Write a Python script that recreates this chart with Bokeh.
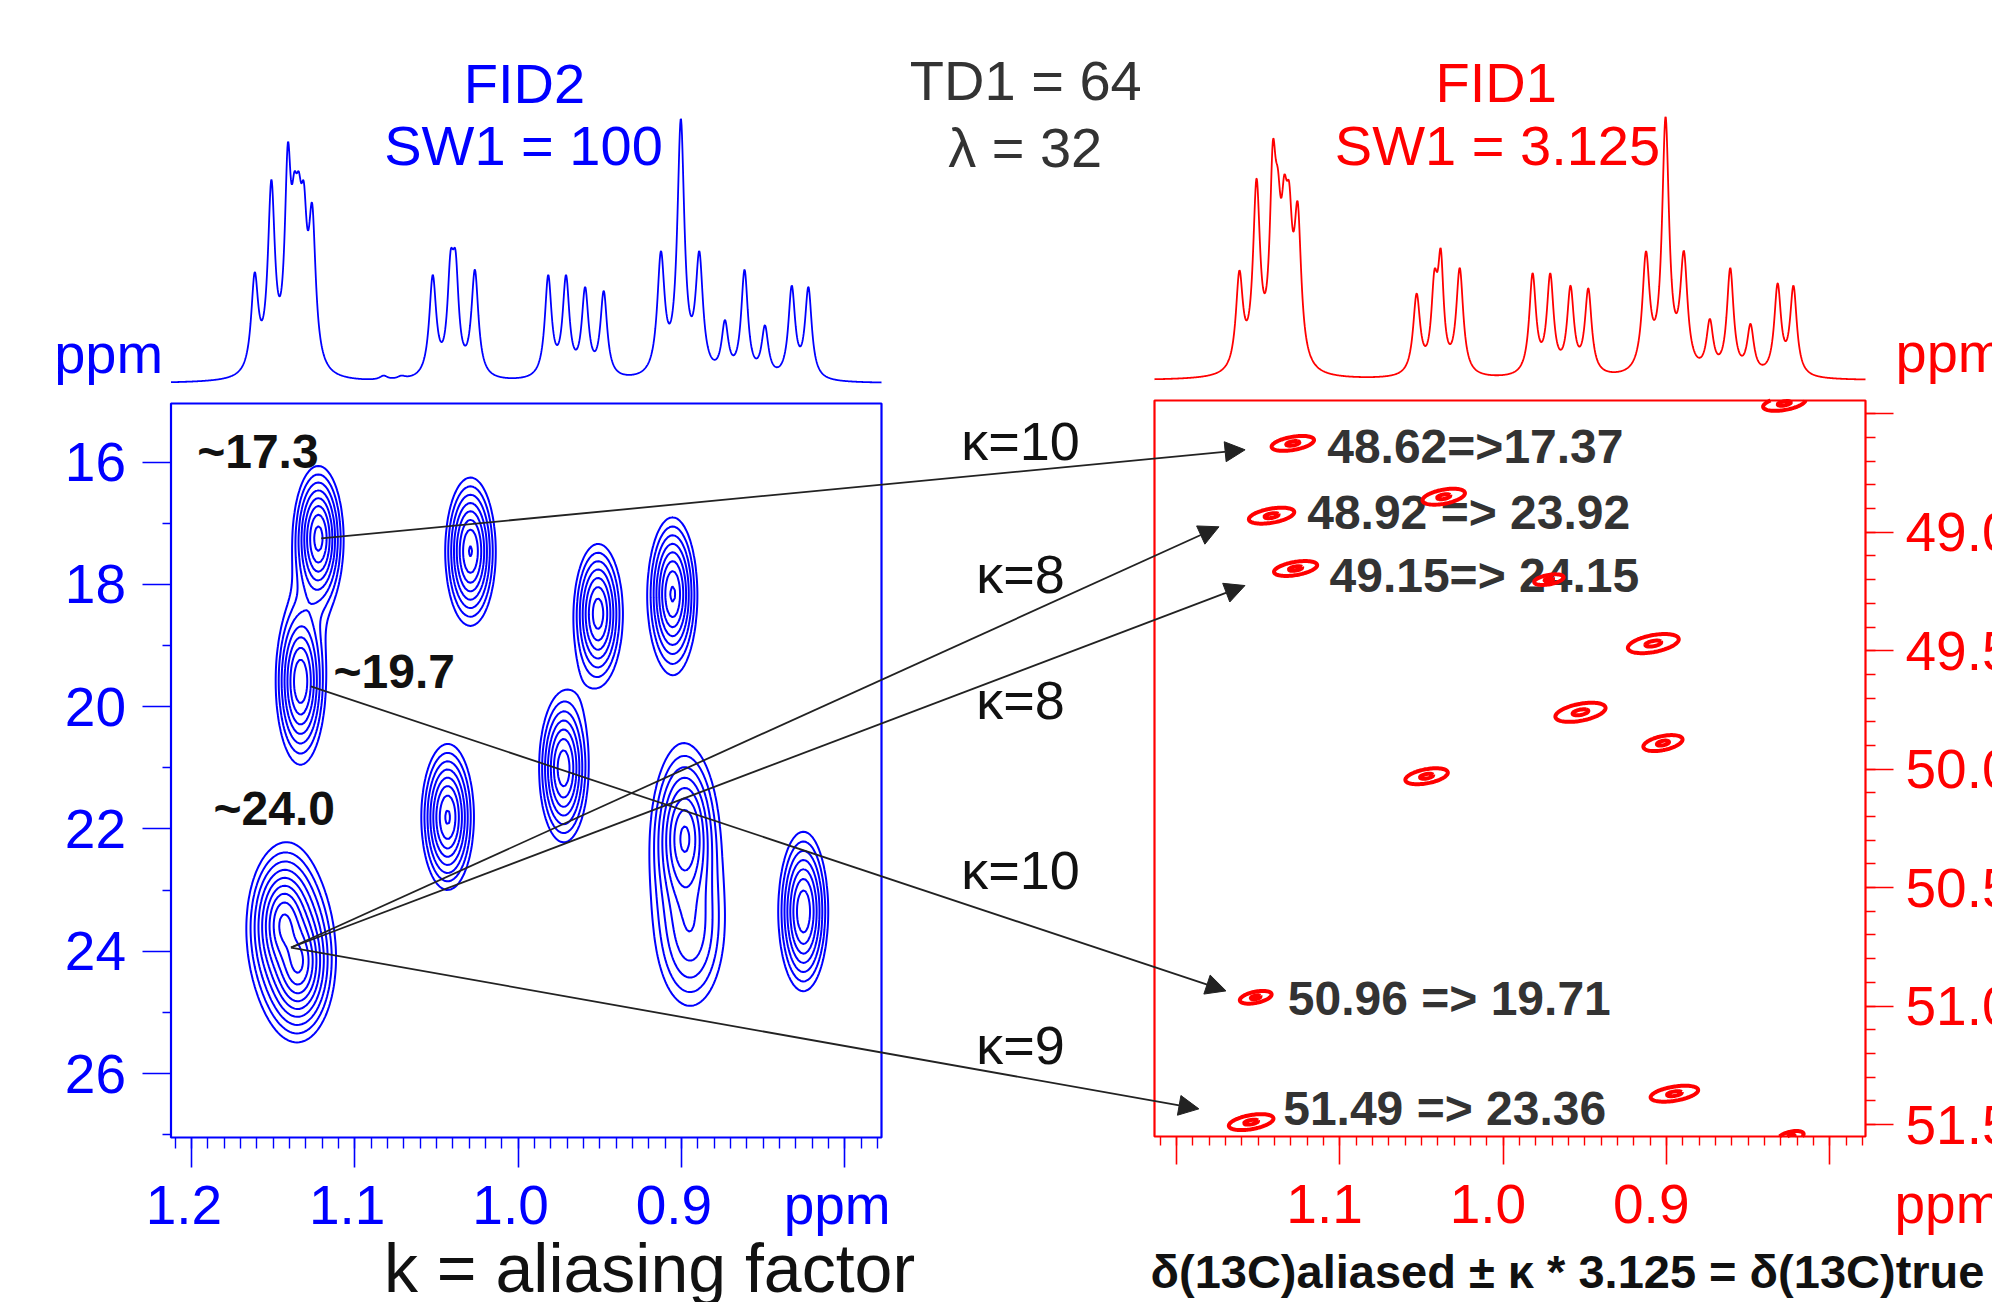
import numpy as np
import contourpy
from bokeh.plotting import figure
from bokeh.models import Range1d, LinearAxis, FixedTicker, Arrow, NormalHead, PrintfTickFormatter
from bokeh.core.properties import value
from bokeh.embed import file_html
from bokeh.resources import INLINE

BLUE = "#0000ff"
RED = "#ff0000"
DARK = "#333333"
BLACK = "#111111"
FONT = "Liberation Sans"
NBSP = "\u00a0"

# ------------------------------------------------------------------ data
# 1H projection above FID2 (blue): peak position (ppm), apparent height, half width
blue_ppm = [1.1720, 1.1613, 1.1511, 1.1410, 1.1370, 1.1343, 1.1312, 1.1261, 1.0824, 1.0715,
            1.0523, 1.0414, 1.0383, 1.0265, 0.9816, 0.9707, 0.9590, 0.9476,
            0.9126, 0.9004, 0.8891, 0.8734, 0.8614, 0.8489, 0.8325, 0.8223]
blue_hgt = [4, 42, 77, 91, 80, 80, 76, 68, 3, 3,
            41, 50, 50, 43, 41, 41, 36.5, 35,
            50, 100, 50, 24, 43, 22, 37, 36.5]
blue_hw = [0.006, 0.0026, 0.0026, 0.0023, 0.0023, 0.0023, 0.0023, 0.0026, 0.003, 0.003,
           0.0026, 0.0023, 0.0023, 0.0026, 0.0025, 0.0025, 0.0025, 0.0025,
           0.0027, 0.0026, 0.0027, 0.0025, 0.0025, 0.0025, 0.0025, 0.0025]

# 1H projection above FID1 (red)
red_ppm = [1.1720, 1.1615, 1.1510, 1.1410, 1.1379, 1.1340, 1.1310, 1.1258,
           1.0530, 1.0421, 1.0382, 1.0266, 0.9820, 0.9712, 0.9588, 0.9479,
           0.9126, 0.9006, 0.8894, 0.8735, 0.8610, 0.8486, 0.8320, 0.8223]
red_hgt = [4, 41.7, 76.6, 90.9, 80, 78, 75, 67.8,
           33, 42, 50, 42.7, 40.7, 40.7, 36, 35,
           49, 100, 49.2, 23.4, 42.7, 21.5, 36.9, 36]
red_hw = [0.006, 0.0026, 0.0026, 0.0023, 0.0023, 0.0023, 0.0023, 0.0026,
          0.0026, 0.0023, 0.0021, 0.0026, 0.0025, 0.0025, 0.0025, 0.0025,
          0.0027, 0.0026, 0.0027, 0.0025, 0.0025, 0.0025, 0.0025, 0.0025]

# FID2 2D cross peaks (blue): 1H, 13C, outer-contour half widths, amplitude
b2_h = [1.1223, 1.1332, 1.0292, 0.9511, 0.9054, 0.9722, 1.0432, 1.1435, 1.1345, 0.8980, 0.8945, 0.8253]
b2_c = [17.25, 19.59, 17.46, 18.48, 18.16, 21.01, 21.81, 23.55, 24.20, 22.15, 23.70, 23.35]
b2_wh = [0.0151, 0.0149, 0.0153, 0.0144, 0.0148, 0.0147, 0.0159, 0.0210, 0.0210, 0.0195, 0.0180, 0.0150]
b2_wc = [1.17, 1.30, 1.20, 1.12, 1.24, 1.19, 1.18, 1.20, 1.20, 1.45, 1.10, 1.29]
b2_amp = [12, 10, 10.8, 9, 11, 9.5, 11, 14, 14, 11, 3, 10]
blue_levels = [1.4 ** k for k in range(10)]

# FID1 2D cross peaks (red, aliased 13C)
r2_h = [1.1288, 1.0364, 1.1418, 1.1271, 0.9720, 0.9081, 0.9527, 0.9022, 1.0469, 1.1515, 0.8952, 1.1543, 0.8279, 0.8238]
r2_c = [48.625, 48.850, 48.930, 49.153, 49.200, 49.470, 49.760, 49.890, 50.030, 50.963, 51.370, 51.490, 48.456, 51.550]
r2_wh = [0.0116, 0.0116, 0.0124, 0.0118, 0.0081, 0.0139, 0.0137, 0.0107, 0.0116, 0.0087, 0.0130, 0.0122, 0.0116, 0.0069]
r2_wc = [0.028, 0.030, 0.030, 0.028, 0.020, 0.036, 0.036, 0.030, 0.030, 0.024, 0.030, 0.030, 0.028, 0.020]
red_levels = [1.0, 3.3]

# aliasing arrows: start in FID2 (1H, 13C), end in FID1 (1H, 13C aliased), factor
arr_h0 = [1.1206, 1.1391, 1.1391, 1.1269, 1.1391]
arr_c0 = [17.25, 23.94, 23.94, 19.67, 23.94]
arr_h1 = [1.1580, 1.1740, 1.1581, 1.1697, 1.1863]
arr_c1 = [48.652, 48.977, 49.225, 50.936, 51.434]
kappa = ["κ=10", "κ=8", "κ=8", "κ=10", "κ=9"]

peak_labels = ["~17.3", "~19.7", "~24.0"]
alias_labels = ["48.62=>17.37", "48.92 => 23.92", "49.15=> 24.15", "50.96 => 19.71", "51.49 => 23.36"]

blue_xticks = [1.2, 1.1, 1.0, 0.9, 0.8]
blue_yticks = [16, 18, 20, 22, 24, 26]
red_xticks = [1.2, 1.1, 1.0, 0.9, 0.8]
red_yticks = [48.5, 49.0, 49.5, 50.0, 50.5, 51.0, 51.5]

# ------------------------------------------------------------------ layout helpers
W, H = 1992, 1302
PX0, PX1, PY0, PY1 = 0, W, 0, H   # page pixels covered by the canvas


def lin(p0, v0, p1, v1):
    k = (v1 - v0) / (p1 - p0)
    return (lambda p: v0 + (p - p0) * k), (lambda v: p0 + (v - v0) / k)


LX, LXp = lin(191, 1.2, 681, 0.9)          # FID2 1H
LY, LYp = lin(461.5, 16.0, 1073, 26.0)      # FID2 13C
RX, RXp = lin(1176, 1.2, 1502.7, 1.0)       # FID1 1H
RY, RYp = lin(413.3, 48.5, 1124, 51.5)      # FID1 13C
SB, _ = lin(383, 0.0, 118, 100.0)           # blue projection intensity
SR, _ = lin(380, 0.0, 116, 100.0)           # red projection intensity

BL, BR, BT, BB = 170.5, 881, 403, 1137      # blue panel box (page px)
RL, RR, RT, RB = 1154, 1865, 400, 1136      # red panel box

p = figure(width=W, height=H,
           x_range=Range1d(LX(PX0), LX(PX1)), y_range=Range1d(LY(PY1), LY(PY0)),
           x_axis_type=None, y_axis_type=None, toolbar_location=None,
           output_backend="svg", min_border=0, title=None, outline_line_color=None)
p.background_fill_color = "white"
p.border_fill_color = "white"
p.extra_x_ranges = {"rx": Range1d(RX(PX0), RX(PX1)), "px": Range1d(PX0, PX1)}
p.extra_y_ranges = {"ry": Range1d(RY(PY1), RY(PY0)), "py": Range1d(PY1, PY0),
                    "sb": Range1d(SB(PY1), SB(PY0)), "sr": Range1d(SR(PY1), SR(PY0))}


# ------------------------------------------------------------------ 1D projections
def projection(grid, pos, hgt, hw):
    pos = np.asarray(pos, float)
    hgt = np.asarray(hgt, float)
    hw = np.asarray(hw, float)
    M = 1.0 / (1.0 + ((pos[:, None] - pos[None, :]) / hw[None, :]) ** 2)
    amp = np.clip(np.linalg.solve(M, hgt), 0, None)
    return (amp[None, :] / (1.0 + ((grid[:, None] - pos[None, :]) / hw[None, :]) ** 2)).sum(axis=1)


gb = np.linspace(LX(BR), LX(BL), 1600)
p.line(gb, projection(gb, blue_ppm, blue_hgt, blue_hw), y_range_name="sb",
       line_color=BLUE, line_width=1.8)
gr = np.linspace(RX(RR), RX(RL), 1600)
p.line(gr, projection(gr, red_ppm, red_hgt, red_hw), x_range_name="rx", y_range_name="sr",
       line_color=RED, line_width=1.8)


# ------------------------------------------------------------------ 2D contours
def contour_xy(xg, yg, Z, levels):
    gen = contourpy.contour_generator(x=xg, y=yg, z=Z)
    xs, ys = [], []
    for lv in levels:
        for seg in gen.lines(lv):
            xs.append(seg[:, 0].tolist())
            ys.append(seg[:, 1].tolist())
    return xs, ys


xg = np.linspace(LX(BR), LX(BL), 300)
yg = np.linspace(LY(BT), LY(BB), 220)
XX, YY = np.meshgrid(xg, yg)
Zb = np.zeros_like(XX)
for h0, c0, wh, wc, a in zip(b2_h, b2_c, b2_wh, b2_wc, b2_amp):
    s = np.sqrt(np.sqrt(a) - 1.0)
    gx, gy = wh / s, wc / s
    Zb += a / (1.0 + ((XX - h0) / gx) ** 2 + ((YY - c0) / gy) ** 2) ** 2
bxs, bys = contour_xy(xg, yg, Zb, blue_levels)
p.multi_line(bxs, bys, line_color=BLUE, line_width=2)

# panel boxes
p.quad(left=[LX(BL)], right=[LX(BR)], top=[LY(BT)], bottom=[LY(BB)],
       fill_color=None, line_color=BLUE, line_width=2.2)
p.quad(left=[RX(RL)], right=[RX(RR)], top=[RY(RT)], bottom=[RY(RB)],
       x_range_name="rx", y_range_name="ry", fill_color=None, line_color=RED, line_width=2.2)


# ------------------------------------------------------------------ axes
def axis_style(ax, color, major_out, minor_out, standoff):
    ax.axis_line_color = None
    ax.major_tick_line_color = color
    ax.minor_tick_line_color = color
    ax.major_tick_line_width = 1.6
    ax.minor_tick_line_width = 1.4
    ax.major_tick_in = 0
    ax.minor_tick_in = 0
    ax.major_tick_out = major_out
    ax.minor_tick_out = minor_out
    ax.major_label_text_color = color
    ax.major_label_text_font = FONT
    ax.major_label_text_font_size = "55px"
    ax.major_label_standoff = standoff


h_minor = [round(1.21 - 0.01 * i, 2) for i in range(44)]

ax_bx = LinearAxis(fixed_location=LY(BB), bounds=(LX(BR), LX(BL)),
                   ticker=FixedTicker(ticks=blue_xticks, minor_ticks=h_minor),
                   formatter=PrintfTickFormatter(format="%.1f" + NBSP),
                   major_label_overrides={0.8: "ppm" + NBSP})
axis_style(ax_bx, BLUE, 30, 11, 6)
p.add_layout(ax_bx, "below")

ax_by = LinearAxis(fixed_location=LX(BL), bounds=(LY(BT), LY(BB)),
                   ticker=FixedTicker(ticks=blue_yticks, minor_ticks=[17, 19, 21, 23, 25, 27]))
axis_style(ax_by, BLUE, 29, 9, 16)
p.add_layout(ax_by, "left")

ax_rx = LinearAxis(x_range_name="rx", y_range_name="ry", fixed_location=RY(RB),
                   bounds=(RX(RR), RX(RL)),
                   ticker=FixedTicker(ticks=red_xticks, minor_ticks=h_minor),
                   formatter=PrintfTickFormatter(format="%.1f" + NBSP + NBSP),
                   major_label_overrides={1.2: "", 0.8: ""})
axis_style(ax_rx, RED, 28, 9, 8)
p.add_layout(ax_rx, "below")

c_minor = [round(48.5 + 0.1 * i, 1) for i in range(31)]
ax_ry = LinearAxis(x_range_name="rx", y_range_name="ry", fixed_location=RX(RR),
                   bounds=(RY(RT), RY(RB)),
                   ticker=FixedTicker(ticks=red_yticks, minor_ticks=c_minor),
                   formatter=PrintfTickFormatter(format="%.1f"),
                   major_label_overrides={48.5: ""})
axis_style(ax_ry, RED, 28, 10, 12)
p.add_layout(ax_ry, "right")


def txt(x, base, t, size, color, align="center", bold=False):
    # positions are given as text baselines (page px); the glyph is anchored on its cap centre
    fs = float(size.replace("px", ""))
    y = [b - 0.358 * fs for b in base]
    p.text(x=x, y=y, text=t, x_range_name="px", y_range_name="py",
           text_font=value(FONT), text_font_size=value(size), text_color=color,
           text_align=align, text_baseline="alphabetic",
           text_font_style="bold" if bold else "normal")


# titles
txt([523.9, 523], [102.7, 165], ["FID2", "SW1 = 100"], "56px", BLUE)
txt([1025.3, 1024.7], [100, 166.7], ["TD1 = 64", "λ = 32"], "56px", DARK)
txt([1495.6, 1497], [101.7, 165], ["FID1", "SW1 = 3.125"], "56px", RED)
txt([162.6], [373], ["ppm"], "56px", BLUE, align="right")
txt([1895], [371.7], ["ppm"], "56px", RED, align="left")
txt([1894], [1223], ["ppm"], "55px", RED, align="left")

# peak labels
txt([196.7, 333, 213], [468.3, 688.3, 825], peak_labels, "48px", BLACK, align="left", bold=True)
txt([1326.7, 1306.7, 1329, 1287.3, 1282.7], [462.7, 529, 591.7, 1015, 1125],
    alias_labels, "48px", DARK, align="left", bold=True)
txt([1020] * 5, [460, 593.3, 719.3, 889, 1063.5], kappa, "54px", BLACK)

# footer
txt([649], [1292], ["k = aliasing factor"], "68px", BLACK)
txt([1150], [1288], ["δ(13C)aliased ± κ * 3.125 = δ(13C)true"], "47px", BLACK, align="left", bold=True)

# red contours (drawn over labels)
xr = np.linspace(RX(RR), RX(RL), 560)
yr = np.linspace(RY(RT), RY(RB), 780)
XR, YR = np.meshgrid(xr, yr)
Zr = np.zeros_like(XR)
rho = -0.45
for h0, c0, wh, wc in zip(r2_h, r2_c, r2_wh, r2_wc):
    u = (XR - h0) / wh
    v = (YR - c0) / wc
    Zr += 4.0 / (1.0 + u * u + v * v + 2 * rho * u * v) ** 2
rxs, rys = contour_xy(xr, yr, Zr, red_levels)
p.multi_line(rxs, rys, x_range_name="rx", y_range_name="ry", line_color=RED, line_width=4)

# arrows (FID1 end points brought into the FID2 coordinate frame)
for h0, c0, h1, c1 in zip(arr_h0, arr_c0, arr_h1, arr_c1):
    xe = LX(RXp(h1))
    ye = LY(RYp(c1))
    p.add_layout(Arrow(end=NormalHead(size=20, fill_color="#222222", line_color="#222222"),
                       x_start=h0, y_start=c0, x_end=xe, y_end=ye,
                       line_color="#222222", line_width=1.8))

open("out.html", "w").write(file_html(p, INLINE))
